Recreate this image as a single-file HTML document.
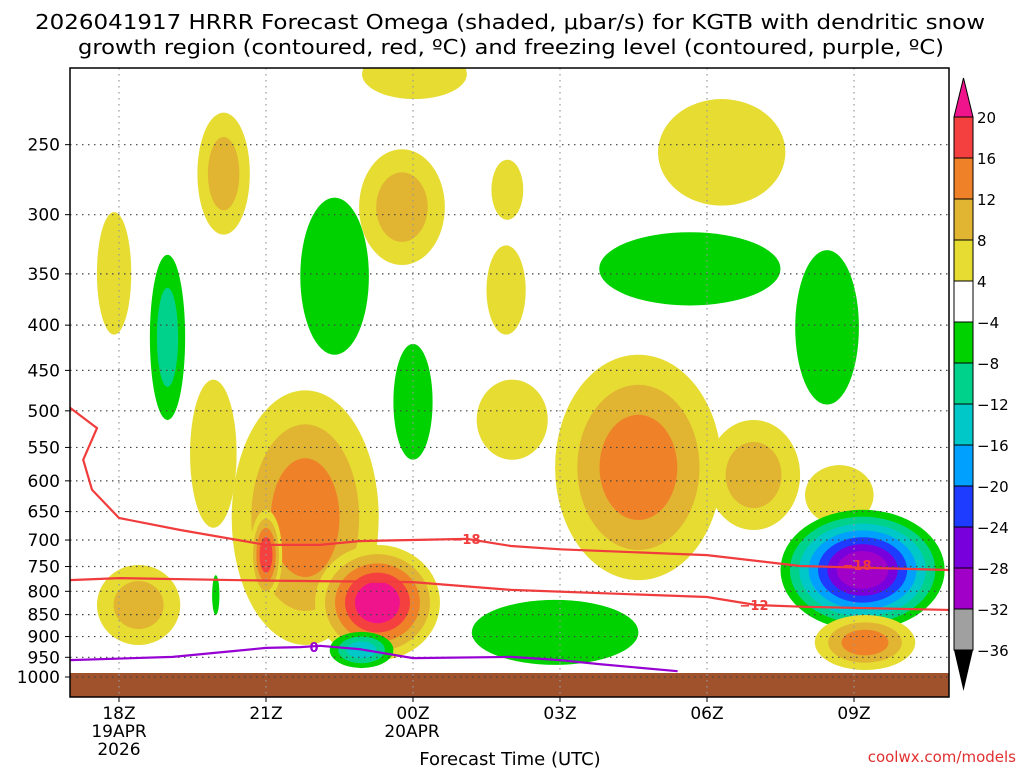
<!DOCTYPE html>
<html><head><meta charset="utf-8"><style>
body{margin:0;background:#fff;width:1024px;height:768px;overflow:hidden;font-family:"DejaVu Sans","Liberation Sans",sans-serif}
svg{display:block}
</style></head><body>
<svg id="c" width="1024" height="768" xmlns="http://www.w3.org/2000/svg" font-family="DejaVu Sans, Liberation Sans, sans-serif">
<text x="510" y="29" text-anchor="middle" font-size="20" textLength="950" lengthAdjust="spacingAndGlyphs" fill="#000">2026041917 HRRR Forecast Omega (shaded, μbar/s) for KGTB with dendritic snow</text>
<text x="511" y="54" text-anchor="middle" font-size="20" textLength="866" lengthAdjust="spacingAndGlyphs" fill="#000">growth region (contoured, red, ºC) and freezing level (contoured, purple, ºC)</text>
<text x="510" y="765" text-anchor="middle" font-size="18">Forecast Time (UTC)</text>
<text x="1016" y="762" text-anchor="end" font-size="15" fill="#e03030">coolwx.com/models</text>
<defs><clipPath id="pc"><rect x="70" y="68" width="879" height="629"/></clipPath></defs>
<g id="plot" clip-path="url(#pc)"></g>
<g id="axes"></g>
<g id="cbar"></g>
</svg>
<script>
// ---- data ----
const pressureTicks=[250,300,350,400,450,500,550,600,650,700,750,800,850,900,950,1000];
const timeTickHours=[18,21,24,27,30,33];
const timeTickLabels=["18Z","21Z","00Z","03Z","06Z","09Z"];
const posLevels=[4,8,12,16,20];
const posColors=["#e6dc32","#e1b432","#ef8228","#f54040","#f0148c"];
const negLevels=[-4,-8,-12,-16,-20,-24,-28,-32];
const negColors=["#00d200","#00d28c","#00c8c8","#00a0ff","#1e3cff","#7800dc","#a000c8","#a0a0a0"];
// blobs: [t0, t1, p0(top), p1(bottom), peak omega]
const blobT0=[17.55,18.63,19.6,22.9,25.6,25.5,21.7,23.6,22.96,29,27.8,31.8,19.45,25.3,26.9,30,32,20.3,20.67,22,17.55,25.2,22.3,31.5,32.2,19.9];
const blobT1=[18.25,19.35,20.67,24.65,26.25,26.3,23.1,24.4,25.1,31.6,31.5,33.1,20.4,26.75,30.3,31.9,33.4,23.3,21.33,24.55,19.25,28.6,23.6,34.85,34.25,20.05];
const blobP0=[298,333,230,253,260,325,287,420,195,222,314,329,461,461,432,512,576,474,647,709,747,818,889,647,851,767];
const blobP1=[410,512,316,342,304,410,432,568,222,293,380,492,678,568,777,682,673,920,818,957,920,969,977,885,982,851];
const blobVal=[5,-10,10,10,5,5,-5,-5,5,5,-5,-5,5,5,15,10,6,14,18,22,10,-5,-14,-28,14,-5];
// contour lines
const line18Hours=[17,17.55,17.27,17.45,18,19.25,21,22.1,22.9,25.1,26,27,30,31.9,35];
const line18Pres=[496,523,568,614,661,682,709,709,702,698,711,717,728,749,757];
const line12Hours=[17,18,21,24,26,30,31,32,35];
const line12Pres=[777,773,778,781,797,812,829,833,840];
const line0Hours=[17,19.1,21,21.7,22.1,22.9,24,26,27,27.8,29.4];
const line0Pres=[957,949,927,925,922,930,952,949,957,967,985];
// ---- axes ----
const X0=70,X1=949,Y0=68,Y1=697;
const xs=h=>70+(h-17)*49;
const ys=p=>677-384*Math.log(1000/p);
const NS="http://www.w3.org/2000/svg";
function mk(tag,attrs,parent){const e=document.createElementNS(NS,tag);for(const k in attrs)e.setAttribute(k,attrs[k]);parent.appendChild(e);return e;}
const plot=document.getElementById('plot'),axes=document.getElementById('axes'),cbar=document.getElementById('cbar');
blobVal.forEach((v,i)=>{
  const xa=xs(blobT0[i]),xb=xs(blobT1[i]),ya=ys(blobP0[i]),yb=ys(blobP1[i]);
  const cx=(xa+xb)/2,cy=(ya+yb)/2,rx=(xb-xa)/2,ry=(yb-ya)/2;
  const lv=v>0?posLevels:negLevels,cols=v>0?posColors:negColors;
  let n=0;lv.forEach(t=>{if(Math.abs(v)>=Math.abs(t))n++;});
  for(let k=0;k<n;k++){
    const s=1-k*0.8/n;
    const e=mk('ellipse',{cx:cx,cy:cy,rx:rx*s,ry:ry*s,fill:cols[k]},plot);
    
    
  }
});
const g=mk('rect',{x:X0,y:673,width:X1-X0,height:Y1-673,fill:'#a0522d'},plot);


pressureTicks.forEach(p=>{
  const l=mk('line',{x1:X0,x2:X1,y1:ys(p),y2:ys(p),stroke:'#444','stroke-dasharray':'1.5 4.5','stroke-width':1.2},plot);
  
  
});
timeTickHours.forEach(h=>{
  const l=mk('line',{x1:xs(h),x2:xs(h),y1:Y0,y2:Y1,stroke:'#999','stroke-dasharray':'1.5 4.5','stroke-width':1.2},plot);
  
  
});
function drawLine(H,P,color,name){
  const d=H.map((h,i)=>(i?'L':'M')+xs(h).toFixed(1)+','+ys(P[i]).toFixed(1)).join('');
  const l=mk('path',{d:d,fill:'none',stroke:color,'stroke-width':2.2},plot);
  
  
}
drawLine(line18Hours,line18Pres,'#f03c3c','contour-minus-18');
drawLine(line12Hours,line12Pres,'#f03c3c','contour-minus-12');
drawLine(line0Hours,line0Pres,'#9600d2','contour-0');
function lbl(x,y,t,c,name){
  const tx=mk('text',{x:x,y:y+5,'text-anchor':'middle','font-size':13,'font-weight':'bold',fill:c},plot);
  tx.textContent=t;
  
  
}
lbl(466,539,'−18','#f03c3c','label-minus-18');
lbl(857,565,'−18','#f03c3c','label-minus-18b');
lbl(754,605,'−12','#f03c3c','label-minus-12');
lbl(314,647,'0','#9600d2','label-0');
const f=mk('rect',{x:X0,y:Y0,width:X1-X0,height:Y1-Y0,fill:'none',stroke:'#000','stroke-width':1.5},axes);


pressureTicks.forEach(p=>{
  const t=mk('text',{x:60,y:ys(p)+6,'text-anchor':'end','font-size':17},axes);
  t.textContent=p;
  
  
  mk('line',{x1:X0-5,x2:X0,y1:ys(p),y2:ys(p),stroke:'#000'},axes);
});
timeTickHours.forEach((h,i)=>{
  const t=mk('text',{x:xs(h),y:719,'text-anchor':'middle','font-size':17},axes);
  t.textContent=timeTickLabels[i];
  
  
  mk('line',{x1:xs(h),x2:xs(h),y1:Y1,y2:Y1+5,stroke:'#000'},axes);
});
[["19APR",119,737],["2026",119,755],["20APR",412,737]].forEach(a=>{
  const t=mk('text',{x:a[1],y:a[2],'text-anchor':'middle','font-size':17},axes);
  t.textContent=a[0];
  
  
});
const cbX=954,cbW=19,cbTop=117,seg=41;
const cbColors=posColors.slice(0,4).reverse().concat(['#ffffff']).concat(negColors);
const cbLabels=["20","16","12","8","4","−4","−8","−12","−16","−20","−24","−28","−32","−36"];
const tri=mk('polygon',{points:`${cbX},${cbTop} ${cbX+cbW},${cbTop} ${cbX+cbW/2},78`,fill:'#f0148c',stroke:'#000'},cbar);


cbColors.forEach((c,i)=>{
  const r=mk('rect',{x:cbX,y:cbTop+i*seg,width:cbW,height:seg,fill:c,stroke:'#000'},cbar);
  
  
});
const yb=cbTop+cbColors.length*seg;
const tri2=mk('polygon',{points:`${cbX},${yb} ${cbX+cbW},${yb} ${cbX+cbW/2},691`,fill:'#000'},cbar);


cbLabels.forEach((s,i)=>{
  const t=mk('text',{x:977,y:cbTop+i*seg+6,'font-size':15},cbar);
  t.textContent=s;
  
  
});
</script>
</body></html>
